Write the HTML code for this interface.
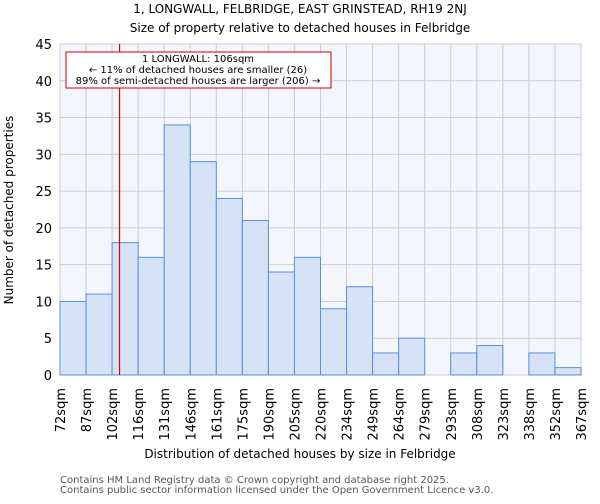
<!DOCTYPE html>
<html><head><meta charset="utf-8"><style>
body{margin:0;background:#fff;font-family:"DejaVu Sans","Liberation Sans",sans-serif}
</style></head><body>
<svg id="c" width="600" height="500" xmlns="http://www.w3.org/2000/svg" font-family="DejaVu Sans, Liberation Sans, sans-serif">
<text x="300" y="13" text-anchor="middle" font-size="12">1, LONGWALL, FELBRIDGE, EAST GRINSTEAD, RH19 2NJ</text>
<text x="300" y="32" text-anchor="middle" font-size="12">Size of property relative to detached houses in Felbridge</text>
<rect x="60" y="44" width="521" height="331" fill="#f3f6fd"/>
<g id="grid"></g><g id="bars"></g><g id="axes"></g>
<text x="300" y="458" text-anchor="middle" font-size="12">Distribution of detached houses by size in Felbridge</text>
<text transform="translate(13,210) rotate(-90)" text-anchor="middle" font-size="12">Number of detached properties</text>
<text x="60" y="483" font-size="10" fill="#555">Contains HM Land Registry data © Crown copyright and database right 2025.</text>
<text x="60" y="493" font-size="10" fill="#555">Contains public sector information licensed under the Open Government Licence v3.0.</text>
</svg>
<script>
const labels=["72sqm","87sqm","102sqm","116sqm","131sqm","146sqm","161sqm","175sqm","190sqm","205sqm","220sqm","234sqm","249sqm","264sqm","279sqm","293sqm","308sqm","323sqm","338sqm","352sqm","367sqm"];
const counts=[10,11,18,16,34,29,24,21,14,16,9,12,3,5,0,3,4,0,3,1];
const yTicks=[0,5,10,15,20,25,30,35,40,45];
const edgeValues=[72,87,102,116,131,146,161,175,190,205,220,234,249,264,279,293,308,323,338,352,367];
const subject=106;
const X0=60,X1=581,Y0=375,Y1=44,yMax=45;
const NS="http://www.w3.org/2000/svg";
const n=counts.length,bw=(X1-X0)/n;
const xs=i=>X0+i*bw, ys=v=>Y0-(v/yMax)*(Y0-Y1);
function mk(t,a,p){const e=document.createElementNS(NS,t);for(const k in a)e.setAttribute(k,a[k]);p.appendChild(e);return e;}
const g=document.getElementById('grid'),b=document.getElementById('bars'),ax=document.getElementById('axes');
yTicks.forEach(v=>{const l=mk('line',{x1:X0,x2:X1,y1:ys(v),y2:ys(v),stroke:'#ccc','stroke-width':1},g);

const t=mk('text',{x:X0-8,y:ys(v)+5,'text-anchor':'end','font-size':13},ax);t.textContent=v;
});
labels.forEach((s,i)=>{const l=mk('line',{x1:xs(i),x2:xs(i),y1:Y1,y2:Y0,stroke:'#ccc','stroke-width':1},g);

const t=mk('text',{transform:`translate(${xs(i)+5},388) rotate(-90)`,'text-anchor':'end','font-size':13},ax);t.textContent=s;
});
counts.forEach((v,i)=>{if(v<=0)return;const r=mk('rect',{x:xs(i),y:ys(v),width:bw,height:Y0-ys(v),fill:'#d6e2f5',stroke:'#5b8fd6','stroke-width':1},b);
});
let k=0;while(k<edgeValues.length-2&&edgeValues[k+1]<=subject)k++;
const sx=xs(k)+(subject-edgeValues[k])/(edgeValues[k+1]-edgeValues[k])*bw;
const ml=mk('line',{x1:sx,x2:sx,y1:Y1,y2:Y0,stroke:'#dd0000','stroke-width':1.2},ax);

const box=mk('rect',{x:66,y:52,width:265,height:36,fill:'#fff',stroke:'#cc0000','stroke-width':1},ax);

["1 LONGWALL: 106sqm","← 11% of detached houses are smaller (26)","89% of semi-detached houses are larger (206) →"].forEach((s,i)=>{
const t=mk('text',{x:198,y:62+i*11,'text-anchor':'middle','font-size':10},ax);t.textContent=s;
});
</script>
</body></html>
